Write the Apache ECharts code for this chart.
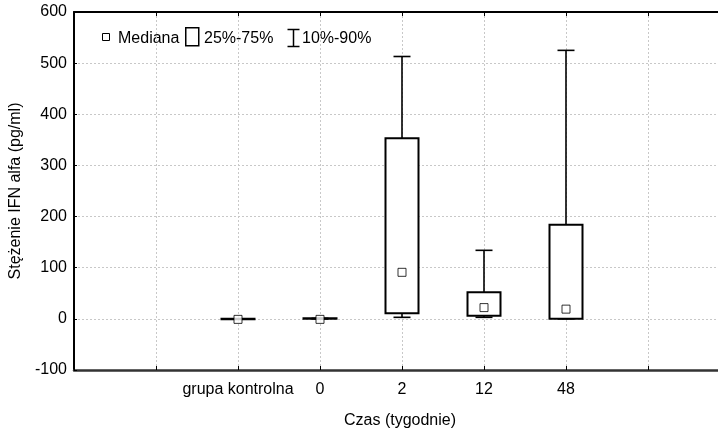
<!DOCTYPE html>
<html>
<head>
<meta charset="utf-8">
<script src="https://cdn.jsdelivr.net/npm/echarts@6/dist/echarts.min.js"></script>
<style>
  html, body { margin: 0; padding: 0; background: #fff; }
  #chart { width: 718px; height: 431px; }
</style>
</head>
<body>
<div id="chart"></div>
<script>
  // x slots: two empty ones on each side, groups in between
  const categories = ['', '', 'grupa kontrolna', '0', '2', '12', '48', '', ''];
  const groups = ['grupa kontrolna', '0', '2', '12', '48'];
  const median = [-1, -1, 91, 22, 19];
  const q25 = [0, 0, 11, 6, 0];
  const q75 = [0, 1, 353, 52, 184];
  const p10 = [0, 0, 3, 3, 0];
  const p90 = [0, 1, 513, 134, 525];
  const yTicks = [-100, 0, 100, 200, 300, 400, 500, 600];

  const font = 'Liberation Sans, Arial, sans-serif';
  const boxData = groups.map((g, i) => [categories.indexOf(g), p10[i], q25[i], q75[i], p90[i]]);
  const medData = groups.map((g, i) => [categories.indexOf(g), median[i]]);

  const chart = echarts.init(document.getElementById('chart'));

  function renderBox(params, api) {
    const x = api.value(0);
    const lo = api.coord([x, api.value(1)]);
    const b1 = api.coord([x, api.value(2)]);
    const b2 = api.coord([x, api.value(3)]);
    const hi = api.coord([x, api.value(4)]);
    const cx = lo[0];
    const bw = 33, cw = 17;
    const line = {stroke: '#000', lineWidth: 1.6};
    return {
      type: 'group',
      children: [
        {type: 'line', shape: {x1: cx, y1: b2[1], x2: cx, y2: hi[1]}, style: line},
        {type: 'line', shape: {x1: cx - cw / 2, y1: hi[1], x2: cx + cw / 2, y2: hi[1]}, style: line},
        {type: 'line', shape: {x1: cx, y1: b1[1], x2: cx, y2: lo[1]}, style: line},
        {type: 'line', shape: {x1: cx - cw / 2, y1: lo[1], x2: cx + cw / 2, y2: lo[1]}, style: line},
        {
          type: 'rect',
          shape: {x: cx - bw / 2, y: b2[1], width: bw, height: Math.max(b1[1] - b2[1], 0.5)},
          style: {fill: '#fff', stroke: '#000', lineWidth: 2}
        }
      ]
    };
  }

  chart.setOption({
    animation: false,
    backgroundColor: '#fff',
    textStyle: {fontFamily: font},
    grid: {left: 74, top: 12, width: 656, bottom: 61, containLabel: false, outerBoundsMode: 'none'},
    xAxis: [
      {
        type: 'value',
        min: 0,
        max: categories.length - 1,
        interval: 1,
        position: 'bottom',
        name: 'Czas (tygodnie)',
        nameLocation: 'middle',
        nameGap: 43,
        nameTextStyle: {fontSize: 16, color: '#000', padding: [0, 4, 0, 0]},
        axisLine: {onZero: false, lineStyle: {color: '#333', width: 2.5}},
        axisTick: {inside: true, length: 4, lineStyle: {color: '#000', width: 1}},
        axisLabel: {
          fontSize: 16, color: '#000', margin: 12,
          formatter: v => categories[v] || ''
        },
        splitLine: {show: true, lineStyle: {color: '#c8c8c8', type: [2, 2], width: 1}}
      },
      {
        type: 'value',
        min: 0,
        max: categories.length - 1,
        interval: 1,
        position: 'top',
        axisLine: {onZero: false, lineStyle: {color: '#000', width: 2}},
        axisTick: {inside: true, length: 4, lineStyle: {color: '#000', width: 1}},
        axisLabel: {show: false},
        splitLine: {show: false}
      }
    ],
    yAxis: {
      type: 'value',
      min: yTicks[0],
      max: yTicks[yTicks.length - 1],
      interval: 100,
      name: 'Stężenie IFN alfa (pg/ml)',
      nameLocation: 'middle',
      nameGap: 44,
      nameTextStyle: {fontSize: 16, color: '#000'},
      axisLine: {show: true, onZero: false, lineStyle: {color: '#000', width: 2}},
      axisTick: {show: true, inside: true, length: 3, lineStyle: {color: '#000'}},
      axisLabel: {fontSize: 16, color: '#000', margin: 7},
      splitLine: {show: true, lineStyle: {color: '#c8c8c8', type: [2, 2], width: 1}}
    },
    series: [
      {
        type: 'custom',
        name: '25%-75%',
        renderItem: renderBox,
        encode: {x: 0, y: [1, 2, 3, 4]},
        data: boxData,
        z: 3
      },
      {
        type: 'scatter',
        name: 'Mediana',
        symbol: 'rect',
        symbolSize: 8,
        itemStyle: {color: '#fff', borderColor: '#000', borderWidth: 1},
        data: medData,
        z: 4
      }
    ],
    graphic: [
      {type: 'rect', left: 102, top: 33, shape: {width: 7, height: 7}, style: {fill: '#fff', stroke: '#000', lineWidth: 1}},
      {type: 'text', left: 118, top: 31, style: {text: 'Mediana', font: '16px ' + font, fill: '#000'}},
      {type: 'rect', left: 185, top: 27, shape: {width: 13, height: 18}, style: {fill: '#fff', stroke: '#000', lineWidth: 1.5}},
      {type: 'text', left: 204, top: 31, style: {text: '25%-75%', font: '16px ' + font, fill: '#000'}},
      {
        type: 'group', left: 285, top: 27,
        children: [
          {type: 'line', shape: {x1: 0, y1: 0.5, x2: 12, y2: 0.5}, style: {stroke: '#000', lineWidth: 1.5}},
          {type: 'line', shape: {x1: 6, y1: 0.5, x2: 6, y2: 17.5}, style: {stroke: '#000', lineWidth: 1.5}},
          {type: 'line', shape: {x1: 0, y1: 17.5, x2: 12, y2: 17.5}, style: {stroke: '#000', lineWidth: 1.5}}
        ]
      },
      {type: 'text', left: 302, top: 31, style: {text: '10%-90%', font: '16px ' + font, fill: '#000'}}
    ]
  });
</script>
</body>
</html>
